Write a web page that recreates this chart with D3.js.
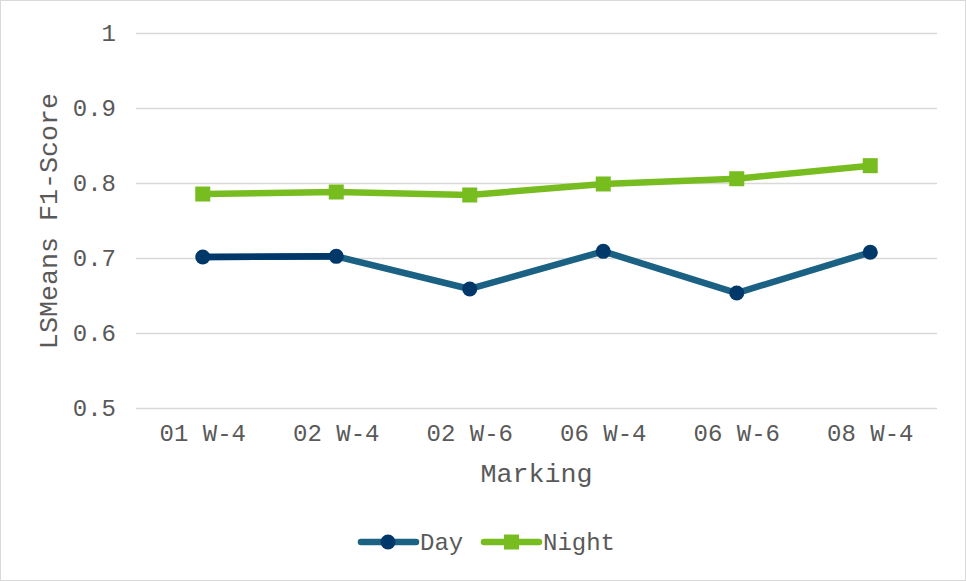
<!DOCTYPE html>
<html>
<head>
<meta charset="utf-8">
<script src="https://cdn.jsdelivr.net/npm/d3@7"></script>
<style>
  body { margin: 0; background: #fff; }
  text { font-family: "Courier New", "Nimbus Mono PS", FreeMono, "Liberation Mono", monospace; fill: #595959; }
</style>
</head>
<body>
<svg id="chart" width="966" height="581"></svg>
<script>
// data
const markings = ['01 W-4', '02 W-4', '02 W-6', '06 W-4', '06 W-6', '08 W-4'];
const dayValues = [0.7013, 0.7022, 0.6587, 0.7089, 0.6533, 0.7076];
const nightValues = [0.7853, 0.788, 0.784, 0.7987, 0.8057, 0.8231];
const yTicks = [0.5, 0.6, 0.7, 0.8, 0.9, 1];

const fontStack = '"Courier New", "Nimbus Mono PS", FreeMono, "Liberation Mono", monospace';
const textColor = '#595959';
const dayLine = '#1b6184';
const dayMarker = '#00386a';
const nightColor = '#78bd20';

const width = 966, height = 581;
const margin = { top: 33, right: 29, bottom: 173, left: 136 };
const plotW = width - margin.left - margin.right;
const plotH = height - margin.top - margin.bottom;

const svg = d3.select('#chart');

// outer frame
svg.append('rect')
    .attr('x', 0.5).attr('y', 0.5)
    .attr('width', width - 1).attr('height', height - 1)
    .attr('fill', '#fff')
    .attr('stroke', '#d9d9d9')
    .attr('stroke-width', 1);

const g = svg.append('g')
    .attr('transform', `translate(${margin.left},${margin.top})`);

const x = d3.scaleBand().domain(markings).range([0, plotW]);
const y = d3.scaleLinear().domain([0.5, 1]).range([plotH, 0]);
const cx = d => x(d) + x.bandwidth() / 2;

// grid + y labels
const yAxis = d3.axisLeft(y).tickValues(yTicks)
    .tickSize(-plotW).tickPadding(20)
    .tickFormat(d => d === 1 ? '1' : d3.format('.1f')(d));
const gy = g.append('g').call(yAxis);
gy.select('.domain').remove();
gy.selectAll('.tick line').attr('stroke', '#d9d9d9').attr('stroke-width', 1.5);
gy.selectAll('.tick text')
    .attr('font-size', 24).attr('fill', textColor)
    .style('font-family', fontStack);

// x labels
const xAxis = d3.axisBottom(x).tickSize(0).tickPadding(16);
const gx = g.append('g').attr('transform', `translate(0,${plotH})`).call(xAxis);
gx.select('.domain').remove();
gx.selectAll('.tick text')
    .attr('font-size', 24).attr('fill', textColor)
    .style('font-family', fontStack);

// axis titles
g.append('text')
    .attr('x', plotW / 2).attr('y', plotH + 74)
    .attr('text-anchor', 'middle')
    .attr('font-size', 26.7)
    .text('Marking');

g.append('text')
    .attr('transform', `translate(${50 - margin.left},${221 - margin.top}) rotate(-90)`)
    .attr('text-anchor', 'middle')
    .attr('dominant-baseline', 'central')
    .attr('font-size', 26.7)
    .text('LSMeans F1-Score');

const line = d3.line().x(d => cx(d.k)).y(d => y(d.v));
const dayPts = markings.map((k, i) => ({ k, v: dayValues[i] }));
const nightPts = markings.map((k, i) => ({ k, v: nightValues[i] }));

// Night
g.append('path').datum(nightPts)
    .attr('d', line).attr('fill', 'none')
    .attr('stroke', nightColor).attr('stroke-width', 6.5)
    .attr('stroke-linejoin', 'round');
g.selectAll('.night-pt').data(nightPts).enter().append('rect')
    .attr('class', 'night-pt')
    .attr('x', d => cx(d.k) - 7.5).attr('y', d => y(d.v) - 7.5)
    .attr('width', 15).attr('height', 15)
    .attr('fill', nightColor);

// Day (first segment is drawn darker in the reference)
g.append('path').datum(dayPts)
    .attr('d', line).attr('fill', 'none')
    .attr('stroke', dayLine).attr('stroke-width', 6.5)
    .attr('stroke-linejoin', 'round');
g.append('path').datum(dayPts.slice(0, 2))
    .attr('d', line).attr('fill', 'none')
    .attr('stroke', dayMarker).attr('stroke-width', 6.5);
g.selectAll('.day-pt').data(dayPts).enter().append('circle')
    .attr('class', 'day-pt')
    .attr('cx', d => cx(d.k)).attr('cy', d => y(d.v))
    .attr('r', 7.5)
    .attr('fill', dayMarker);

// legend
const legend = svg.append('g').attr('transform', 'translate(0,542)');
const items = [
    { name: 'Day', x0: 361, stroke: dayLine, fill: dayMarker, shape: 'circle' },
    { name: 'Night', x0: 484, stroke: nightColor, fill: nightColor, shape: 'square' }
];
items.forEach(it => {
    const li = legend.append('g').attr('transform', `translate(${it.x0},0)`);
    li.append('line')
        .attr('x1', 0).attr('x2', 55)
        .attr('stroke', it.stroke).attr('stroke-width', 6.5)
        .attr('stroke-linecap', 'round');
    if (it.shape === 'circle') {
        li.append('circle').attr('cx', 27).attr('r', 7.5).attr('fill', it.fill);
    } else {
        li.append('rect').attr('x', 20).attr('y', -7.5)
            .attr('width', 15).attr('height', 15).attr('fill', it.fill);
    }
    li.append('text')
        .attr('x', 59).attr('dy', '0.35em')
        .attr('font-size', 24)
        .text(it.name);
});
</script>
</body>
</html>
